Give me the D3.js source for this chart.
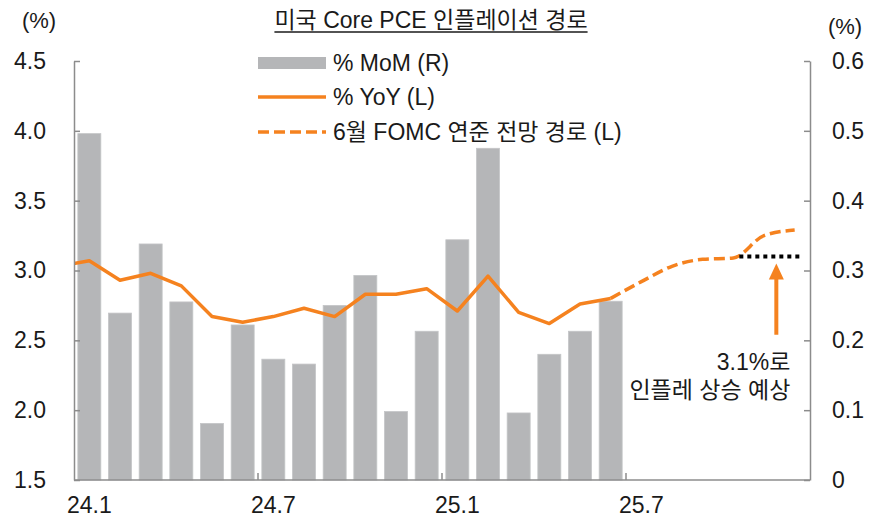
<!DOCTYPE html>
<html>
<head>
<meta charset="utf-8">
<script src="https://cdn.jsdelivr.net/npm/d3@7"></script>
<style>
  body { margin: 0; background: #fff; }
  svg text { font-family: "Liberation Sans", "Noto Sans CJK KR", sans-serif; fill: #1a1a1a; }
</style>
</head>
<body>
<svg id="chart" width="882" height="518"></svg>
<script>
// months on the category axis (24.1 ~ 25.12)
const months = ['24.1','24.2','24.3','24.4','24.5','24.6','24.7','24.8','24.9','24.10','24.11','24.12',
  '25.1','25.2','25.3','25.4','25.5','25.6','25.7','25.8','25.9','25.10','25.11','25.12']
// % MoM (right axis), 24.1 ~ 25.6
const mom = [0.496, 0.239, 0.338, 0.255, 0.081, 0.222, 0.173, 0.166, 0.250, 0.293, 0.098, 0.213,
  0.344, 0.475, 0.096, 0.180, 0.213, 0.256]
// % YoY (left axis), 24.1 ~ 25.6 ; 23.12 value only used for the clipped lead-in
const yoyPrev = 3.03
const yoy = [3.07, 2.93, 2.98, 2.89, 2.67, 2.63, 2.67, 2.73, 2.67, 2.83, 2.83, 2.87,
  2.71, 2.96, 2.70, 2.62, 2.76, 2.80]
// June FOMC implied path (left axis), 25.6 ~ 25.12
const pathMonths = ['25.6','25.7','25.8','25.9','25.10','25.11','25.12']
const fomcPath = [2.80, 2.92, 3.03, 3.08, 3.09, 3.25, 3.29]
const target = 3.1
const leftTicks = [1.5, 2.0, 2.5, 3.0, 3.5, 4.0, 4.5]
const rightTicks = [0, 0.1, 0.2, 0.3, 0.4, 0.5, 0.6]
const xLabels = ['24.1', '24.7', '25.1', '25.7']
const xBoundaryTicks = ['24.7', '25.1', '25.7']

const orange = '#f5821f'
const gray = '#b5b6b8'
const axisColor = '#8c8c8c'
const fontFam = '"Liberation Sans", "Noto Sans CJK KR", sans-serif'

const svg = d3.select('#chart')
const plotL = 74, plotR = 810, plotT = 61, plotB = 480

const x = d3.scaleBand().domain(months).range([plotL, plotR]).paddingInner(0.25).paddingOuter(0.125)
const cx = m => x(m) + x.bandwidth() / 2
const yL = d3.scaleLinear().domain([1.5, 4.5]).range([plotB, plotT])
const yR = d3.scaleLinear().domain([0, 0.6]).range([plotB, plotT])

svg.append('clipPath').attr('id', 'plot')
  .append('rect').attr('x', plotL).attr('y', 0).attr('width', plotR - plotL).attr('height', plotB)

// bars
svg.append('g').selectAll('rect').data(mom).join('rect')
  .attr('x', (d, i) => x(months[i]))
  .attr('width', x.bandwidth())
  .attr('y', d => yR(d))
  .attr('height', d => plotB - yR(d))
  .attr('fill', gray)
  .attr('stroke', '#c4c5c7').attr('stroke-width', 0.8)

// yoy line (with 23.12 lead-in, clipped at the axis)
const yoyPts = [[cx(months[0]) - x.step(), yL(yoyPrev)]]
  .concat(yoy.map((d, i) => [cx(months[i]), yL(d)]))
svg.append('path')
  .attr('clip-path', 'url(#plot)')
  .attr('d', d3.line()(yoyPts))
  .attr('fill', 'none').attr('stroke', orange).attr('stroke-width', 3.5)
  .attr('stroke-linejoin', 'round')

// FOMC dashed path
svg.append('path')
  .attr('d', d3.line().x((d, i) => cx(pathMonths[i])).y(d => yL(d)).curve(d3.curveMonotoneX)(fomcPath))
  .attr('fill', 'none').attr('stroke', orange).attr('stroke-width', 3.5)
  .attr('stroke-dasharray', '11,5')

// 3.1% dotted target
svg.append('line')
  .attr('x1', cx('25.10') + 6).attr('x2', cx('25.12') + 7)
  .attr('y1', yL(target)).attr('y2', yL(target))
  .attr('stroke', '#000').attr('stroke-width', 4).attr('stroke-dasharray', '4,4')

// arrow
const ax = (cx('25.11') + cx('25.12')) / 2 - 3
const tipY = yL(3.05)
svg.append('line')
  .attr('x1', ax).attr('x2', ax).attr('y1', yL(2.54)).attr('y2', tipY + 12)
  .attr('stroke', orange).attr('stroke-width', 4)
svg.append('path')
  .attr('d', d3.line()([[ax, tipY], [ax - 7.5, tipY + 16], [ax + 7.5, tipY + 16]]) + 'Z')
  .attr('fill', orange)

const note = svg.append('text').attr('text-anchor', 'end').attr('font-size', 23)
note.append('tspan').attr('x', ax + 14).attr('y', 370).text('3.1%로')
note.append('tspan').attr('x', ax + 14).attr('y', 398).text('인플레 상승 예상')

// axes
const gL = svg.append('g').attr('transform', `translate(${plotL},0)`)
  .call(d3.axisLeft(yL).tickValues(leftTicks).tickFormat(d3.format('.1f'))
    .tickSizeInner(-6).tickSizeOuter(0).tickPadding(28))
const gR = svg.append('g').attr('transform', `translate(${plotR},0)`)
  .call(d3.axisRight(yR).tickValues(rightTicks).tickFormat(d => d === 0 ? '0' : d.toFixed(1))
    .tickSizeInner(-6).tickSizeOuter(0).tickPadding(22))
const gX = svg.append('g').attr('transform', `translate(0,${plotB})`)
  .call(d3.axisBottom(x).tickValues(xLabels).tickSize(0).tickPadding(17))
gX.append('g').selectAll('line').data(xBoundaryTicks).join('line')
  .attr('x1', d => x(d) - x.step() * x.paddingInner() / 2)
  .attr('x2', d => x(d) - x.step() * x.paddingInner() / 2)
  .attr('y1', 0).attr('y2', -7)
  .attr('stroke', axisColor).attr('stroke-width', 1.5)
gX.select('.domain').attr('d', `M${plotL},0H${plotR}`)

;[gL, gR, gX].forEach(g => {
  g.select('.domain').attr('stroke', axisColor).attr('stroke-width', 1.5)
  g.selectAll('.tick line').attr('stroke', axisColor).attr('stroke-width', 1.5)
  g.selectAll('.tick text').attr('font-size', 23).attr('fill', '#1a1a1a')
    .attr('font-family', fontFam)
})

// unit labels
svg.append('text').attr('x', 39).attr('y', 28).attr('text-anchor', 'middle').attr('font-size', 22).text('(%)')
svg.append('text').attr('x', 845).attr('y', 34).attr('text-anchor', 'middle').attr('font-size', 22).text('(%)')

// title
const title = svg.append('text').attr('x', 431).attr('y', 28).attr('text-anchor', 'middle')
  .attr('font-size', 23).text('미국 Core PCE 인플레이션 경로')
const tw = title.node().getComputedTextLength()
svg.append('line').attr('x1', 431 - tw / 2).attr('x2', 431 + tw / 2)
  .attr('y1', 32).attr('y2', 32).attr('stroke', '#1a1a1a').attr('stroke-width', 1.3)

// legend
const lg = svg.append('g')
lg.append('rect').attr('x', 258).attr('y', 57).attr('width', 68).attr('height', 12).attr('fill', gray)
lg.append('line').attr('x1', 258).attr('x2', 326).attr('y1', 97).attr('y2', 97)
  .attr('stroke', orange).attr('stroke-width', 3.5)
lg.append('line').attr('x1', 258).attr('x2', 326).attr('y1', 132).attr('y2', 132)
  .attr('stroke', orange).attr('stroke-width', 3.5).attr('stroke-dasharray', '11,5')
const legendText = ['% MoM (R)', '% YoY (L)', '6월 FOMC 연준 전망 경로 (L)']
lg.selectAll('text').data(legendText).join('text')
  .attr('x', 333).attr('y', (d, i) => [71, 105, 140][i])
  .attr('font-size', 23).text(d => d)
</script>
</body>
</html>
